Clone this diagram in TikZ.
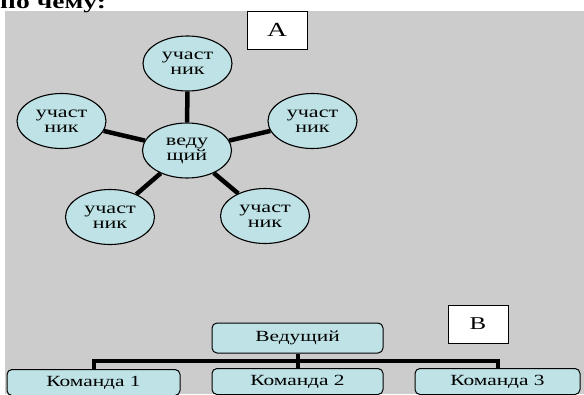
\documentclass[tikz,border=0pt]{standalone}
\usepackage{fontspec}
\setmainfont{Liberation Serif}
\newfontfamily\wf[FakeStretch=1.38]{Liberation Serif}
\usetikzlibrary{shapes.geometric}
\definecolor{bg}{RGB}{204,204,204}
\definecolor{lb}{RGB}{190,226,229}
\begin{document}
\begin{tikzpicture}[x=1pt,y=-1pt,
  ell/.style={ellipse,draw,line width=1.1pt,fill=lb,inner sep=0pt,minimum width=89pt,minimum height=55pt,align=center,font=\wf\fontsize{16}{15}\selectfont},
  rbox/.style={rectangle,rounded corners=5pt,draw,line width=1pt,fill=lb,inner sep=0pt,font=\wf\fontsize{15.5}{18}\selectfont},
  conn/.style={line width=4.5pt},
  bconn/.style={line width=4pt},
  lbl/.style={rectangle,draw,line width=1pt,fill=white,inner sep=0pt,minimum width=60pt,minimum height=38pt}]
\useasboundingbox (0,0) rectangle (584,394);
\fill[bg] (5,11) rectangle (584,394);
\node[anchor=base west,inner sep=0pt,font=\wf\bfseries\fontsize{20}{20}\selectfont] (title) at (0,8) {по чему:};
% star diagram
\node[lbl,font=\wf\fontsize{20}{20}\selectfont] (A) at (277,30) {A};
\node[ell] (C) at (187,150.5) {веду\\щий};
\node[ell] (T) at (187.5,63.5) {участ\\ник};
\node[ell] (L) at (61.5,121) {участ\\ник};
\node[ell] (R) at (312.5,121) {участ\\ник};
\node[ell] (BL) at (110,217) {участ\\ник};
\node[ell] (BR) at (265,216) {участ\\ник};
\draw[conn] (C) -- (T);
\draw[conn] (C) -- (L);
\draw[conn] (C) -- (R);
\draw[conn] (C) -- (BL);
\draw[conn] (C) -- (BR);
% hierarchy
\node[lbl,font=\wf\fontsize{18}{18}\selectfont] (B) at (478,324) {B};
\node[rbox,minimum width=171pt,minimum height=30pt] (V) at (297.5,338) {Ведущий};
\node[rbox,minimum width=173pt,minimum height=26pt,anchor=north] (K1) at (93.5,369) {Команда 1};
\node[rbox,minimum width=171pt,minimum height=26pt,anchor=north] (K2) at (297.5,368) {Команда 2};
\node[rbox,minimum width=165pt,minimum height=26pt,anchor=north] (K3) at (497.5,368) {Команда 3};
\draw[bconn] (V.south) -- (K2.north);
\draw[bconn] (K1.north) -- ++(0,-8) -| (K3.north);
\end{tikzpicture}
\end{document}
